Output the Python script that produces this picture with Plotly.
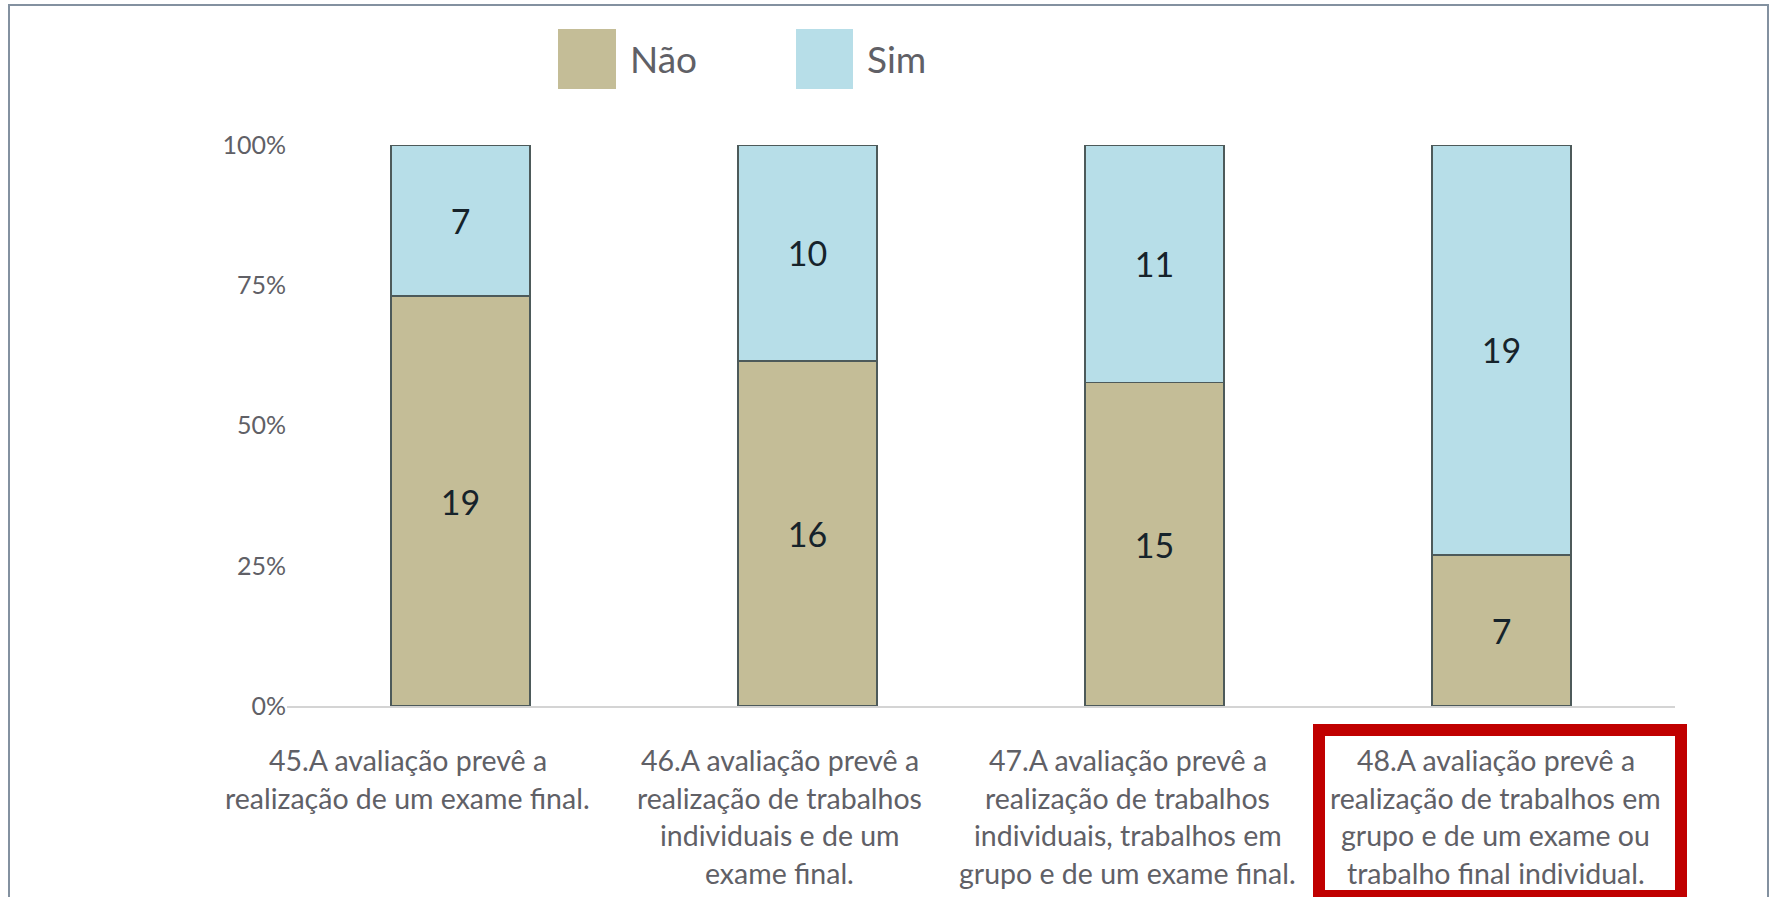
import plotly.graph_objects as go

categories = ["Q45", "Q46", "Q47", "Q48"]
label_lines = [
    ["45.A avaliação prevê a", "realização de um exame final."],
    ["46.A avaliação prevê a", "realização de trabalhos", "individuais e de um", "exame final."],
    ["47.A avaliação prevê a", "realização de trabalhos", "individuais, trabalhos em", "grupo e de um exame final."],
    ["48.A avaliação prevê a", "realização de trabalhos em", "grupo e de um exame ou", "trabalho final individual."],
]
nao = [19, 16, 15, 7]
sim = [7, 10, 11, 19]
series_names = ["Não", "Sim"]
y_ticks = [0, 25, 50, 75, 100]
y_tick_labels = ["0%", "25%", "50%", "75%", "100%"]

# horizontal offsets of the category text boxes relative to bar centres (px)
LABEL_XSHIFT = [-53, -28, -27, -6]

W, H = 1775, 897
L, R, T, B = 287, 100, 145, 191
PW, PH = W - L - R, H - T - B

def px(x):
    return (x - L) / PW

def py(y):
    return (H - B - y) / PH

TAN = "#C4BD97"
BLUE = "#B7DEE8"
OUTLINE = "#4d5a5a"
GRAY_TXT = "#606066"

fig = go.Figure()
for name, vals, col in [(series_names[0], nao, TAN), (series_names[1], sim, BLUE)]:
    fig.add_trace(go.Bar(
        x=categories, y=vals, name=name,
        marker=dict(color=col, line=dict(color=OUTLINE, width=1.5)),
        text=vals, texttemplate="%{text}", textposition="inside",
        insidetextanchor="middle",
        textfont=dict(family="Lato", size=34, color="#16232b"),
        showlegend=False,
    ))

annotations = []
for i, lines in enumerate(label_lines):
    for j, line in enumerate(lines):
        annotations.append(dict(
            x=categories[i], xref="x", y=py(760 + 37.5 * j), yref="paper",
            xshift=LABEL_XSHIFT[i],
            text=line, showarrow=False, xanchor="center", yanchor="middle",
            font=dict(family="Lato", size=28.5, color=GRAY_TXT),
        ))

# legend (drawn manually to match the large swatches)
shapes = []
for (x0, x1), name, col, tx in [((558, 616), series_names[0], TAN, 628), ((796, 853), series_names[1], BLUE, 865)]:
    shapes.append(dict(type="rect", xref="paper", yref="paper",
                       x0=px(x0), x1=px(x1), y0=py(89), y1=py(29),
                       fillcolor=col, line=dict(width=0)))
    annotations.append(dict(x=px(tx), y=py(58), xref="paper", yref="paper",
                            text=name, showarrow=False, xanchor="left", yanchor="middle",
                            font=dict(family="Lato", size=37, color=GRAY_TXT)))

# outer frame
shapes.append(dict(type="rect", xref="paper", yref="paper",
                   x0=px(9), x1=px(1768), y0=py(915), y1=py(5),
                   line=dict(color="#8391a0", width=2), fillcolor="rgba(0,0,0,0)", layer="below"))
# red highlight box
shapes.append(dict(type="rect", xref="paper", yref="paper",
                   x0=px(1319), x1=px(1681), y0=py(896), y1=py(730),
                   line=dict(color="#C00000", width=12), fillcolor="rgba(0,0,0,0)"))

fig.update_layout(
    width=W, height=H,
    margin=dict(l=L, r=R, t=T, b=B),
    barmode="stack", barnorm="percent", bargap=0.6,
    paper_bgcolor="white", plot_bgcolor="white",
    annotations=annotations, shapes=shapes,
    xaxis=dict(range=[-0.5, len(categories) - 0.5], autorange=False,
               showticklabels=False, showgrid=False, showline=True,
               linecolor="#d4d4d4", linewidth=2, ticks="", zeroline=False),
    yaxis=dict(range=[0, 100], tickvals=y_ticks, ticktext=y_tick_labels,
               showgrid=False, zeroline=False, showline=False, ticks="",
               tickfont=dict(family="Lato", size=25, color=GRAY_TXT)),
    font=dict(family="Lato"),
)

fig.write_html("out.html",
               config={"displayModeBar": False},
               post_script="document.body.style.margin='0';document.body.style.overflow='hidden';")
